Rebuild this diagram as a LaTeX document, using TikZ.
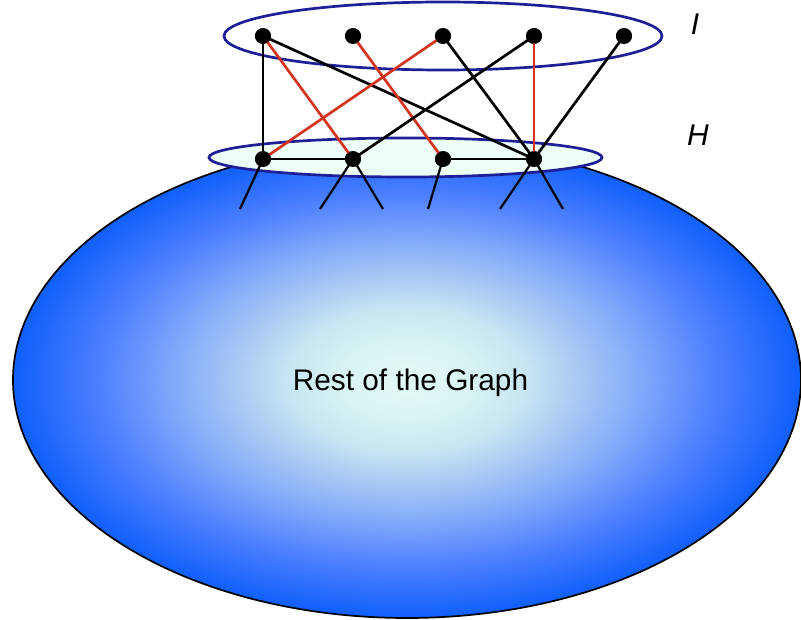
\documentclass[tikz,border=0pt]{standalone}
\usepackage{fontspec}
\setmainfont{Liberation Sans}
\usetikzlibrary{shapes.geometric}
\definecolor{c0}{RGB}{226,251,248}
\definecolor{c1}{RGB}{216,244,242}
\definecolor{c2}{RGB}{200,230,242}
\definecolor{c3}{RGB}{168,200,244}
\definecolor{c4}{RGB}{128,168,250}
\definecolor{c5}{RGB}{78,128,255}
\definecolor{c6}{RGB}{15,95,250}
\definecolor{navy}{RGB}{30,30,150}
\definecolor{hfill}{RGB}{238,255,248}
\definecolor{redge}{RGB}{212,52,30}
\pgfdeclareradialshading{ballshade}{\pgfpoint{0bp}{0bp}}{color(0bp)=(c0); color(4bp)=(c1); color(7.5bp)=(c2); color(11bp)=(c3); color(15bp)=(c4); color(19.5bp)=(c5); color(25bp)=(c6); color(50bp)=(c6)}
\tikzset{
  dot/.style={circle, fill=black, inner sep=0pt, minimum size=16pt},
  edgeb/.style={draw=black, line width=2.7pt},
  edger/.style={draw=redge, line width=2.7pt},
  stub/.style={draw=black, line width=2.2pt},
  setell/.style={ellipse, draw=navy, line width=2.7pt, inner sep=0pt},
  lab/.style={font=\itshape\fontsize{30}{30}\selectfont}
}
\begin{document}
\begin{tikzpicture}[x=1pt,y=-1pt]
\useasboundingbox (0,0) rectangle (801,620);
% rest of graph
\node[ellipse, draw=black, line width=1.7pt, shading=ballshade, inner sep=0pt,
      minimum width=788pt, minimum height=476pt] (rest) at (407,380) {};
\node[font=\fontsize{29.8}{30}\selectfont, anchor=base] (restlab) at (410.5,391) {Rest of the Graph};
% set ellipses
\node[setell, fill=hfill, minimum width=393pt, minimum height=39pt] (Hset) at (405.5,157.5) {};
\node[setell, minimum width=438pt, minimum height=68pt] (Iset) at (443,36) {};
% labels
\node[lab] (Ilab) at (695,24) {I};
\node[lab] (Hlab) at (698,135) {H};
% nodes
\node[dot] (i1) at (263,36) {};
\node[dot] (i2) at (353,36) {};
\node[dot] (i3) at (443,36) {};
\node[dot] (i4) at (534,36) {};
\node[dot] (i5) at (624,36) {};
\node[dot] (h1) at (263,159) {};
\node[dot] (h2) at (353,159) {};
\node[dot] (h3) at (443,159) {};
\node[dot] (h4) at (534,159) {};
% stub ends
\coordinate (s1) at (240,209);
\coordinate (s2) at (320,209);
\coordinate (s3) at (383,209);
\coordinate (s4) at (428,209);
\coordinate (s5) at (500,209);
\coordinate (s6) at (563,209);
% stubs
\path[stub] (h1.center) -- (s1);
\path[stub] (h2.center) -- (s2);
\path[stub] (h2.center) -- (s3);
\path[stub] (h3.center) -- (s4);
\path[stub] (h4.center) -- (s5);
\path[stub] (h4.center) -- (s6);
% edges
\path[edgeb] (i1.center) -- (h1.center);
\path[edger] (i1.center) -- (h2.center);
\path[edgeb] (i1.center) -- (h4.center);
\path[edger] (i2.center) -- (h3.center);
\path[edger] (i3.center) -- (h1.center);
\path[edgeb] (i3.center) -- (h4.center);
\path[edgeb] (i4.center) -- (h2.center);
\path[edger] (i4.center) -- (h4.center);
\path[edgeb] (i5.center) -- (h4.center);
\path[edgeb] (h1.center) -- (h2.center);
\path[edgeb] (h3.center) -- (h4.center);
% dots on top
\foreach \n in {i1,i2,i3,i4,i5,h1,h2,h3,h4} {\fill[black] (\n.center) ellipse[x radius=8pt, y radius=7.5pt];}
\end{tikzpicture}
\end{document}
